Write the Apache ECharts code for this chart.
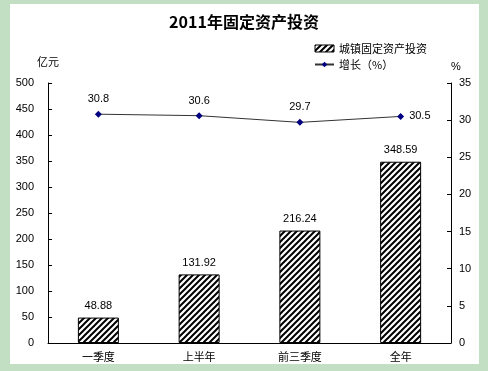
<!DOCTYPE html>
<html><head><meta charset="utf-8">
<script src="https://cdn.jsdelivr.net/npm/echarts@6/dist/echarts.min.js"></script>
<style>
html,body{margin:0;padding:0;background:#c3dfc3;}
#wrap{position:absolute;left:10px;top:4px;width:469px;height:360px;background:#fff;}
#c{position:absolute;left:0;top:0;width:488px;height:371px;}
</style></head>
<body><div id="wrap"></div><div id="c"></div>
<script>
const categories = ['一季度','上半年','前三季度','全年'];
const investment = [48.88, 131.92, 216.24, 348.59];
const growth = [30.8, 30.6, 29.7, 30.5];
const leftTicks = [0, 500, 50];
const rightTicks = [0, 35, 5];

function hatch(){
  const c = document.createElement('canvas');
  c.width = 6; c.height = 6;
  const g = c.getContext('2d');
  g.fillStyle = '#fff'; g.fillRect(0,0,6,6);
  g.strokeStyle = '#000'; g.lineWidth = 2;
  g.beginPath();
  g.moveTo(-1,7); g.lineTo(7,-1);
  g.moveTo(-4,4); g.lineTo(4,-4);
  g.moveTo(2,10); g.lineTo(10,2);
  g.stroke();
  return c;
}
const pattern = {image: hatch(), repeat: 'repeat'};
const font = '"Noto Sans CJK SC", sans-serif';
const numFont = '"Liberation Sans", Arial, sans-serif';

const growthData = growth.map((v, i) => i === growth.length - 1
  ? {value: v, label: {position: 'right', distance: 5}}
  : v);

const chart = echarts.init(document.getElementById('c'), null, {renderer:'canvas'});
chart.setOption({
  backgroundColor: 'transparent',
  animation: false,
  title: {text: '2011年固定资产投资', left: 'center', top: 9,
    textStyle: {fontFamily: font, fontSize: 16, fontWeight: 'bold', color: '#000'}},
  legend: {
    orient: 'vertical', left: 309, top: 38, itemGap: 5, itemWidth: 19, itemHeight: 7,
    textStyle: {fontFamily: font, fontSize: 11, color: '#000'},
    data: [
      {name: '城镇固定资产投资', icon: 'rect', itemStyle: {color: pattern, borderColor: '#000', borderWidth: 1}},
      {name: '增长（%）'}
    ]
  },
  grid: {left: 48, right: 37, top: 83, bottom: 28, containLabel: false},
  xAxis: {
    type: 'category', data: categories,
    axisLine: {lineStyle: {color: '#000'}},
    axisTick: {inside: true, length: 4, lineStyle: {color: '#000'}},
    axisLabel: {fontFamily: font, fontSize: 11, color: '#000', margin: 8}
  },
  yAxis: [
    {type: 'value', min: leftTicks[0], max: leftTicks[1], interval: leftTicks[2],
     name: '亿元', nameLocation: 'end', nameGap: 16,
     nameTextStyle: {fontFamily: font, fontSize: 11, color: '#000', align: 'center'},
     axisLine: {show: true, lineStyle: {color: '#000'}},
     axisTick: {show: true, inside: true, length: 4, lineStyle: {color: '#000'}},
     splitLine: {show: false},
     axisLabel: {fontFamily: numFont, fontSize: 11, color: '#000', margin: 14}},
    {type: 'value', min: rightTicks[0], max: rightTicks[1], interval: rightTicks[2],
     name: '%', nameLocation: 'end', nameGap: 11,
     nameTextStyle: {fontFamily: numFont, fontSize: 11, color: '#000', align: 'left'},
     axisLine: {show: true, lineStyle: {color: '#000'}},
     axisTick: {show: true, inside: true, length: 4, lineStyle: {color: '#000'}},
     splitLine: {show: false},
     axisLabel: {fontFamily: numFont, fontSize: 11, color: '#000', margin: 8}}
  ],
  series: [
    {name: '城镇固定资产投资', type: 'bar', data: investment, barWidth: 41, yAxisIndex: 0,
     itemStyle: {color: pattern, borderColor: '#000', borderWidth: 1},
     label: {show: true, position: 'top', distance: 6, fontFamily: numFont, fontSize: 11, color: '#000'}},
    {name: '增长（%）', type: 'line', data: growthData, yAxisIndex: 1,
     symbol: 'diamond', symbolSize: 7,
     lineStyle: {color: '#333', width: 1},
     itemStyle: {color: '#000080'},
     label: {show: true, position: 'top', distance: 6, fontFamily: numFont, fontSize: 11, color: '#000'}
    }
  ]
});
</script></body></html>
